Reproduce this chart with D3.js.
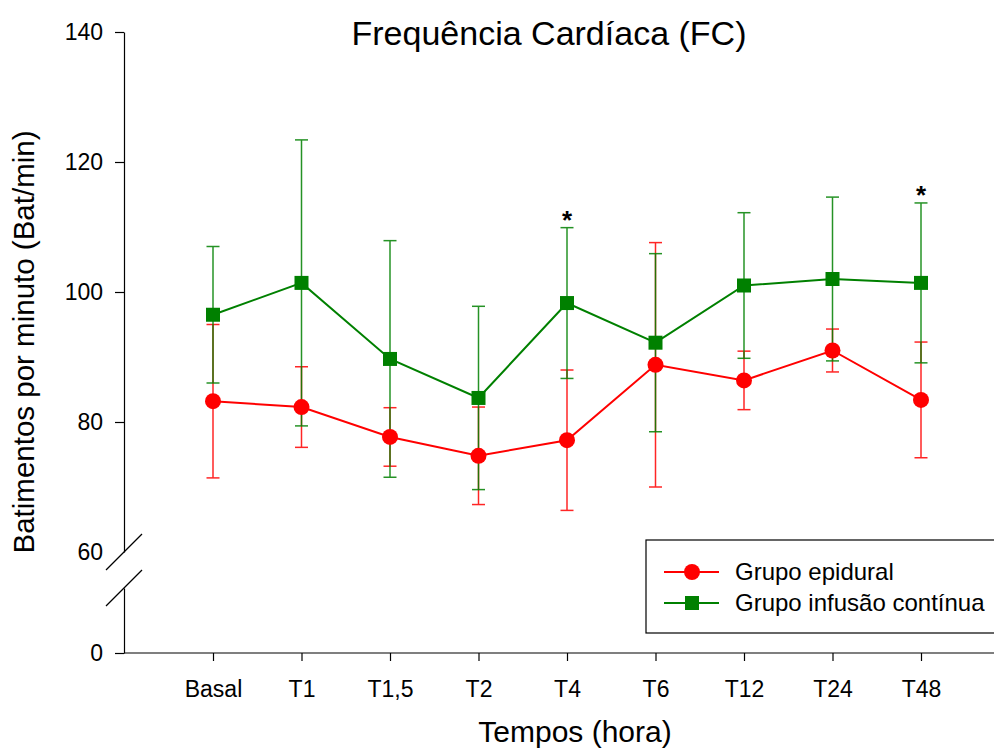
<!DOCTYPE html>
<html><head><meta charset="utf-8">
<script src="https://cdn.jsdelivr.net/npm/d3@7"></script>
<style>body{margin:0;background:#fff}svg{display:block;font-family:"Liberation Sans",Arial,sans-serif}</style>
</head><body><svg id="c" width="994" height="749"></svg>
<script>
const categories = ["Basal","T1","T1,5","T2","T4","T6","T12","T24","T48"];
const epiduralMean = [83.2, 82.3, 77.7, 74.8, 77.2, 88.8, 86.4, 91.0, 83.4];
const epiduralSD   = [11.8, 6.2, 4.5, 7.5, 10.8, 18.8, 4.5, 3.3, 8.9];
const infusaoMean  = [96.5, 101.4, 89.7, 83.7, 98.3, 92.2, 101.0, 102.0, 101.4];
const infusaoSD    = [10.5, 22.0, 18.2, 14.1, 11.6, 13.7, 11.2, 12.6, 12.3];
const starAt = ["T4","T48"];
const yTicksUpper = [60, 80, 100, 120, 140];
const yTicksLower = [0];

const svg = d3.select("#c");
const x = d3.scaleLinear().domain([-1, categories.length]).range([124.5, 1009.5]);
const yUp = d3.scaleLinear().domain([60, 140]).range([552, 32]);
const yLow = d3.scaleLinear().domain([0, 10]).range([653, 588]);

// Y axis upper
const ga = svg.append("g").attr("transform","translate(124,0)")
  .call(d3.axisLeft(yUp).tickValues(yTicksUpper).tickSize(9).tickSizeOuter(0).tickPadding(12));
ga.selectAll(".tick").filter(d => d === 60).select("line").remove();
const gl = svg.append("g").attr("transform","translate(124,0)")
  .call(d3.axisLeft(yLow).tickValues(yTicksLower).tickSize(9).tickSizeOuter(0).tickPadding(12));
// X axis
const gx = svg.append("g").attr("transform","translate(0,653)")
  .call(d3.axisBottom(x).tickValues(d3.range(categories.length)).tickFormat(i => categories[i]).tickSize(8).tickSizeOuter(0).tickPadding(20));
gx.select(".domain").attr("d", "M124,0H994");
[ga, gl, gx].forEach(g => {
  g.attr("font-size", 23).attr("font-family","Liberation Sans, Arial, sans-serif");
  g.selectAll("text").attr("fill","#000");
  g.selectAll("line,path").attr("stroke","#000").attr("stroke-width",1.2);
});
// axis break slashes
[yUp(60), yLow(10)].forEach(yc => {
  svg.append("line").attr("x1",124-18).attr("y1",yc+18).attr("x2",124+18).attr("y2",yc-18)
    .attr("stroke","#000").attr("stroke-width",1.2);
});

// series
const series = [
  {name:"Grupo epidural", mean: epiduralMean, sd: epiduralSD, color:"#ff0000", shape:"circle"},
  {name:"Grupo infusão contínua", mean: infusaoMean, sd: infusaoSD, color:"#008000", shape:"square"}
];
series.forEach(s => {
  const g = svg.append("g").attr("opacity",0.85);
  categories.forEach((c,i) => {
    const cx = x(i), top = yUp(s.mean[i] + s.sd[i]), bot = yUp(s.mean[i] - s.sd[i]);
    g.append("line").attr("x1",cx).attr("x2",cx).attr("y1",top).attr("y2",bot).attr("stroke",s.color).attr("stroke-width",1.5);
    [top,bot].forEach(yy => g.append("line").attr("x1",cx-6.5).attr("x2",cx+6.5).attr("y1",yy).attr("y2",yy).attr("stroke",s.color).attr("stroke-width",1.5));
  });
});
series.forEach(s => {
  const line = d3.line().x((d,i) => x(i)).y(d => yUp(d));
  svg.append("path").attr("d", line(s.mean)).attr("fill","none").attr("stroke",s.color).attr("stroke-width",2);
  s.mean.forEach((v,i) => {
    if (s.shape === "circle") svg.append("circle").attr("cx",x(i)).attr("cy",yUp(v)).attr("r",8).attr("fill",s.color);
    else svg.append("rect").attr("x",x(i)-7).attr("y",yUp(v)-7).attr("width",14).attr("height",14).attr("fill",s.color);
  });
});
// stars
starAt.forEach(c => {
  const i = categories.indexOf(c);
  svg.append("text").attr("x", x(i)).attr("y", yUp(infusaoMean[i]+infusaoSD[i]) + 1)
    .attr("text-anchor","middle").attr("font-size",26).attr("font-weight","bold").text("*");
});

// titles
svg.append("text").attr("x",549).attr("y",45).attr("text-anchor","middle").attr("font-size",34).text("Frequência Cardíaca (FC)");
svg.append("text").attr("transform","translate(34,342) rotate(-90)").attr("text-anchor","middle").attr("font-size",29.5).text("Batimentos por minuto (Bat/min)");
svg.append("text").attr("x",575).attr("y",742).attr("text-anchor","middle").attr("font-size",30).text("Tempos (hora)");

// legend
const lg = svg.append("g");
lg.append("rect").attr("x",646).attr("y",540).attr("width",360).attr("height",93).attr("fill","#fff").attr("stroke","#000").attr("stroke-width",1.2);
series.forEach((s,k) => {
  const yy = 572 + k*31;
  lg.append("line").attr("x1",664).attr("x2",719).attr("y1",yy).attr("y2",yy).attr("stroke",s.color).attr("stroke-width",2);
  if (s.shape === "circle") lg.append("circle").attr("cx",692).attr("cy",yy).attr("r",8).attr("fill",s.color);
  else lg.append("rect").attr("x",685).attr("y",yy-7).attr("width",14).attr("height",14).attr("fill",s.color);
  lg.append("text").attr("x",735).attr("y",yy+8).attr("font-size",24).text(s.name);
});
</script></body></html>
